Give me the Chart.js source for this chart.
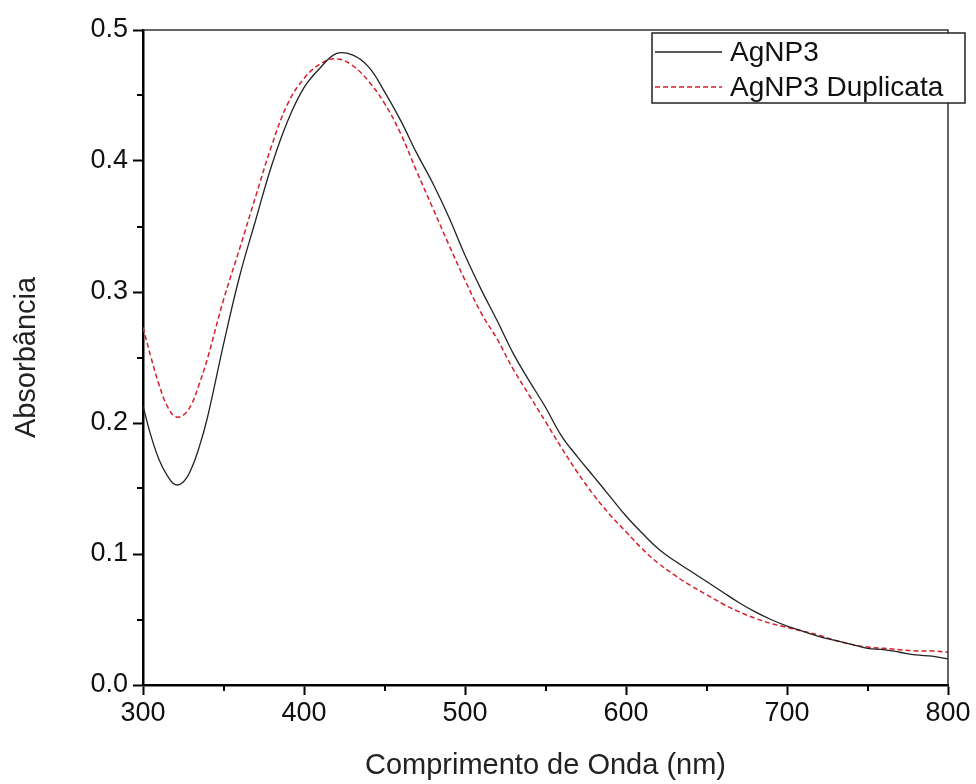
<!DOCTYPE html>
<html>
<head>
<meta charset="utf-8">
<script src="https://cdn.jsdelivr.net/npm/chart.js@4/dist/chart.umd.min.js"></script>
<style>
  body { margin: 0; background: #fff; }
  canvas { display: block; }
</style>
</head>
<body>
<canvas id="spectrum-chart" width="976" height="784"></canvas>
<script>
const wavelengths = [300, 305, 310, 315, 320, 325, 330, 335, 340, 350, 360, 370, 380, 390, 400,
  410, 420, 430, 440, 450, 460, 470, 480, 490, 500, 510, 520, 530, 540, 550, 560, 570, 580, 590,
  600, 610, 620, 630, 640, 650, 660, 670, 680, 690, 700, 710, 720, 730, 740, 750, 760, 770, 780,
  790, 800]

const agnp3 = [0.213, 0.190, 0.172, 0.160, 0.153, 0.155, 0.165, 0.182, 0.204, 0.260, 0.312, 0.355,
  0.397, 0.431, 0.456, 0.471, 0.482, 0.481, 0.472, 0.453, 0.431, 0.406, 0.383, 0.357, 0.328, 0.302,
  0.278, 0.253, 0.232, 0.212, 0.190, 0.174, 0.159, 0.144, 0.129, 0.116, 0.104, 0.095, 0.087, 0.079,
  0.071, 0.063, 0.056, 0.050, 0.045, 0.041, 0.037, 0.034, 0.031, 0.028, 0.027, 0.025, 0.023, 0.022,
  0.020]

const agnp3Duplicata = [0.273, 0.250, 0.229, 0.213, 0.205, 0.206, 0.214, 0.230, 0.249, 0.294, 0.333,
  0.373, 0.412, 0.444, 0.463, 0.474, 0.478, 0.473, 0.461, 0.444, 0.421, 0.392, 0.364, 0.336, 0.309,
  0.284, 0.264, 0.241, 0.221, 0.201, 0.181, 0.162, 0.145, 0.130, 0.117, 0.104, 0.093, 0.084, 0.076,
  0.069, 0.062, 0.056, 0.051, 0.047, 0.044, 0.041, 0.038, 0.034, 0.031, 0.029, 0.028, 0.027, 0.026,
  0.026, 0.025]

const seriesLabels = ['AgNP3', 'AgNP3 Duplicata']

const FONT = 'Liberation Sans, Arial, sans-serif'

const toPoints = (ys) => wavelengths.map((x, i) => ({ x, y: ys[i] }))

const isMajorX = (v) => Math.round(v) % 100 === 0
const isMajorY = (v) => Math.round(v * 100) % 10 === 0

// minor ticks, frame on top/right, and the boxed legend inside the plot
const framePlugin = {
  id: 'frame',
  afterDraw(chart) {
    const { ctx, chartArea: a, scales } = chart
    ctx.save()

    ctx.strokeStyle = '#000'
    ctx.lineWidth = 2
    scales.x.ticks.forEach((t) => {
      if (isMajorX(t.value)) return
      const px = Math.round(scales.x.getPixelForValue(t.value))
      ctx.beginPath()
      ctx.moveTo(px, a.bottom)
      ctx.lineTo(px, a.bottom + 6)
      ctx.stroke()
    })
    scales.y.ticks.forEach((t) => {
      if (isMajorY(t.value)) return
      const py = Math.round(scales.y.getPixelForValue(t.value))
      ctx.beginPath()
      ctx.moveTo(a.left, py)
      ctx.lineTo(a.left - 6, py)
      ctx.stroke()
    })

    ctx.strokeStyle = '#333'
    ctx.lineWidth = 1.5
    ctx.beginPath()
    ctx.moveTo(a.left, a.top)
    ctx.lineTo(a.right, a.top)
    ctx.lineTo(a.right, a.bottom)
    ctx.stroke()

    // legend box
    const bx = 652, by = 33, bw = 313, bh = 70
    ctx.fillStyle = '#fff'
    ctx.fillRect(bx, by, bw, bh)
    ctx.strokeStyle = '#222'
    ctx.lineWidth = 1.5
    ctx.strokeRect(bx, by, bw, bh)

    ctx.font = '28px ' + FONT
    ctx.textBaseline = 'middle'
    ctx.textAlign = 'left'
    const rows = [52, 87]
    chart.data.datasets.forEach((ds, i) => {
      ctx.strokeStyle = ds.borderColor
      ctx.lineWidth = ds.borderWidth
      ctx.setLineDash(ds.borderDash || [])
      ctx.beginPath()
      ctx.moveTo(655, rows[i])
      ctx.lineTo(722, rows[i])
      ctx.stroke()
      ctx.setLineDash([])
      ctx.fillStyle = '#111'
      ctx.fillText(ds.label, 730, rows[i] + 1)
    })

    ctx.restore()
  }
}

new Chart(document.querySelector('#spectrum-chart'), {
  type: 'line',
  data: {
    datasets: [{
      label: seriesLabels[0],
      data: toPoints(agnp3),
      borderColor: '#222',
      borderWidth: 1.3,
      pointRadius: 0,
      tension: 0.4,
      fill: false
    }, {
      label: seriesLabels[1],
      data: toPoints(agnp3Duplicata),
      borderColor: '#d4202c',
      borderWidth: 1.5,
      borderDash: [5, 3],
      pointRadius: 0,
      tension: 0.4,
      fill: false
    }]
  },
  options: {
    responsive: false,
    animation: false,
    layout: {
      padding: { top: 30, right: 28, left: 0, bottom: 0 }
    },
    plugins: {
      legend: { display: false },
      tooltip: { enabled: false }
    },
    scales: {
      x: {
        type: 'linear',
        min: 300,
        max: 800,
        afterFit: (scale) => { scale.height = 99 },
        border: { color: '#000', width: 2.5 },
        grid: {
          drawOnChartArea: false,
          tickLength: 10,
          tickWidth: 2,
          tickColor: (c) => isMajorX(c.tick.value) ? '#000' : 'transparent'
        },
        ticks: {
          stepSize: 50,
          autoSkip: false,
          maxRotation: 0,
          padding: 2,
          color: '#111',
          font: { family: FONT, size: 27 },
          callback: (v) => isMajorX(v) ? String(v) : ''
        },
        title: {
          display: true,
          text: 'Comprimento de Onda (nm)',
          color: '#222',
          font: { family: FONT, size: 29 },
          padding: { top: 0, bottom: 1 }
        }
      },
      y: {
        min: 0,
        max: 0.5,
        afterFit: (scale) => { scale.width = 143 },
        border: { color: '#000', width: 2.5 },
        grid: {
          drawOnChartArea: false,
          tickLength: 10,
          tickWidth: 2,
          tickColor: (c) => isMajorY(c.tick.value) ? '#000' : 'transparent'
        },
        ticks: {
          stepSize: 0.05,
          autoSkip: false,
          padding: 5,
          color: '#111',
          font: { family: FONT, size: 27 },
          callback: (v) => isMajorY(v) ? v.toFixed(1) : ''
        },
        title: {
          display: true,
          text: 'Absorbância',
          color: '#222',
          font: { family: FONT, size: 29 },
          padding: { top: 10, bottom: 0 }
        }
      }
    }
  },
  plugins: [framePlugin]
})
</script>
</body>
</html>
